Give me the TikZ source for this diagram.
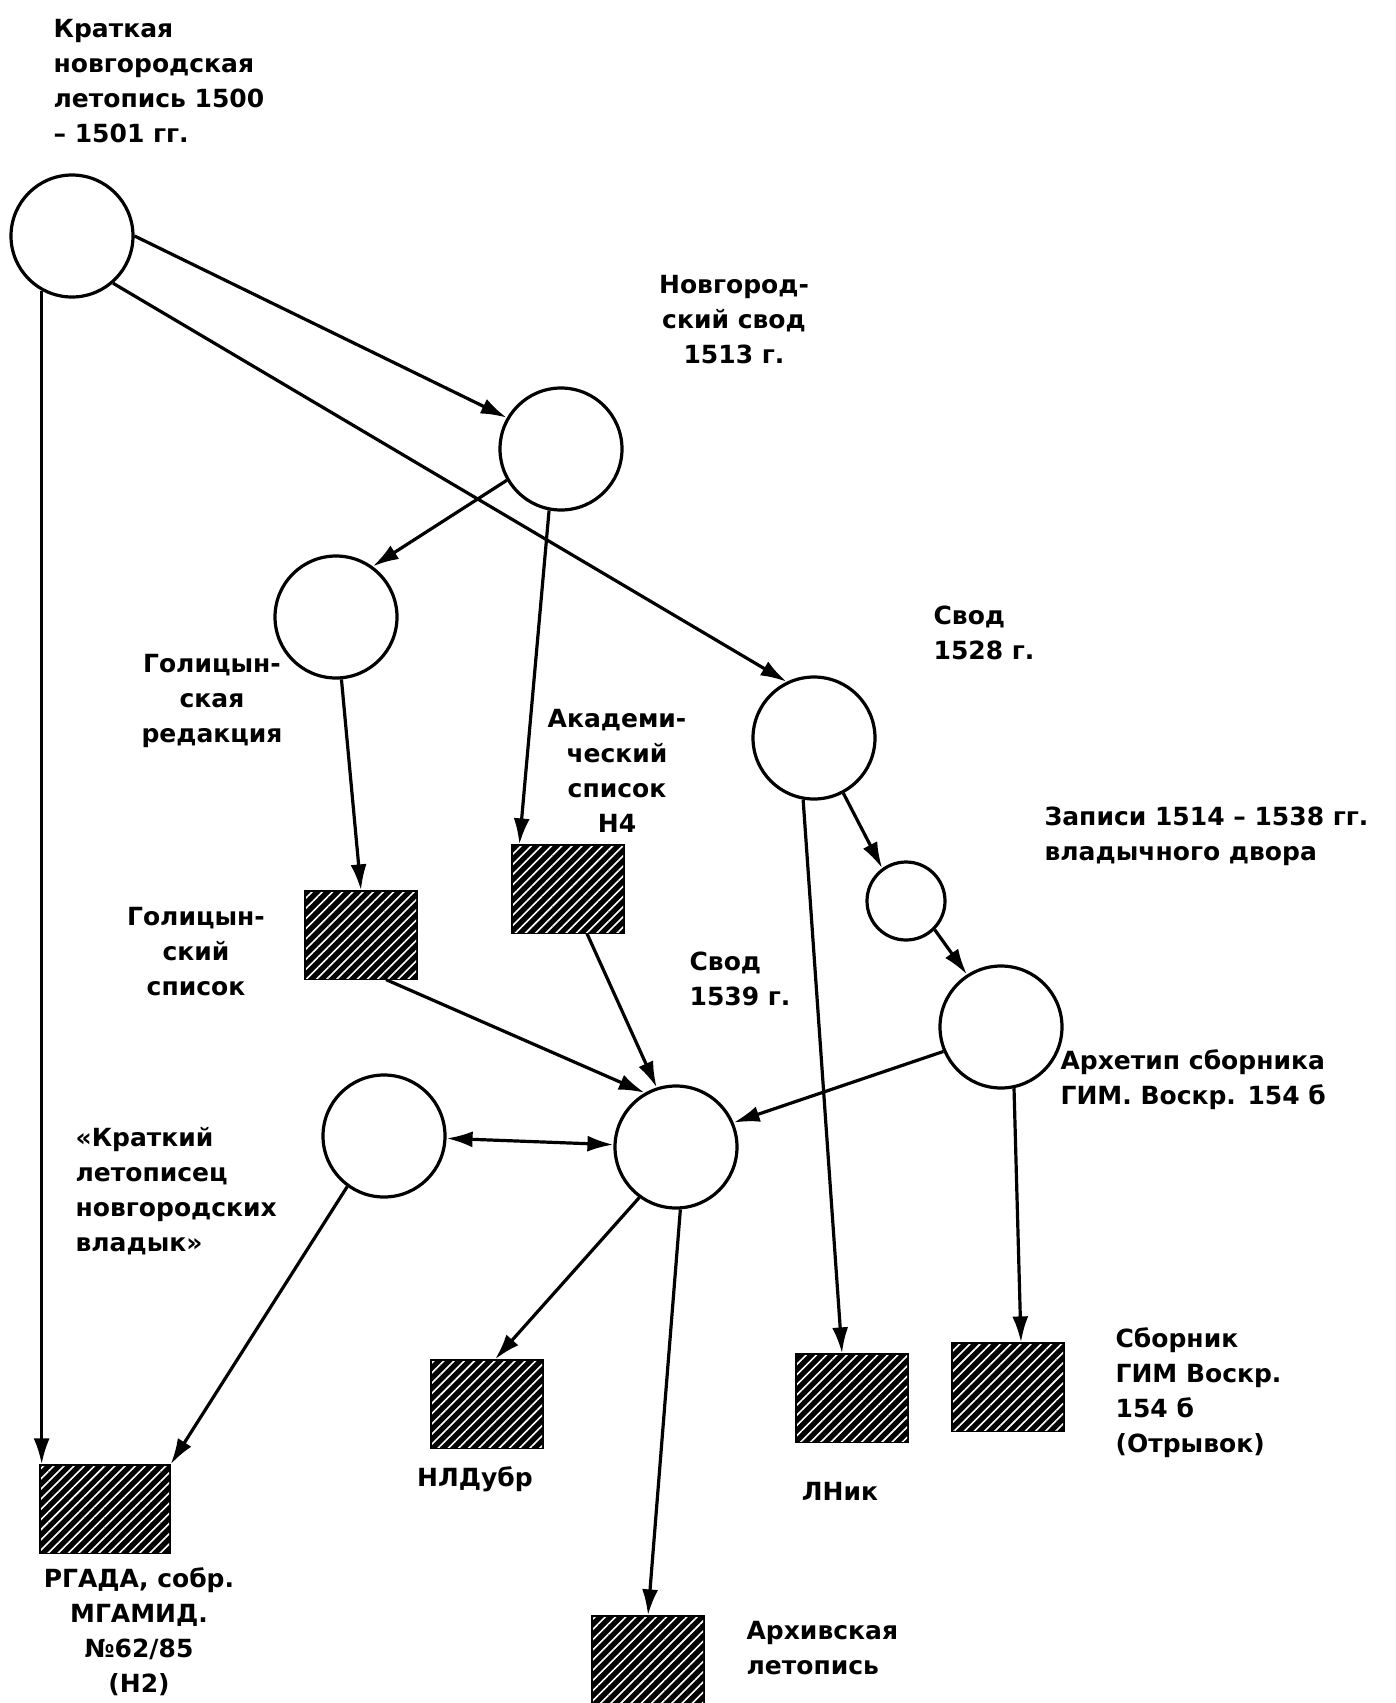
\documentclass[tikz,border=0pt]{standalone}
\usepackage{fontspec}
\setmainfont{DejaVu Sans}
\usetikzlibrary{arrows.meta,patterns.meta}
\begin{document}
\begin{tikzpicture}[x=0.5pt,y=-0.5pt,line width=1.6pt]
\tikzstyle{arrow}=[draw,-{Latex[length=13pt,width=8pt]}]
\tikzstyle{both}=[draw,{Latex[length=13pt,width=8pt]}-{Latex[length=13pt,width=8pt]}]
\tikzstyle{svod}=[draw,circle,inner sep=0pt,minimum size=61pt]
\tikzstyle{spisok}=[draw,fill=black,inner sep=0pt,minimum width=55pt,minimum height=43pt,postaction={pattern={Lines[angle=45,distance=3.6pt,line width=0.8pt]},pattern color=white}]
\tikzstyle{txt}=[inner sep=0pt,font=\bfseries\fontsize{12.5}{17.5}\selectfont]
\useasboundingbox(0,0)rectangle(1396,1703);
% svody
\node[svod](krat)at(72,236){};
\node[svod](nov1513)at(561,449){};
\node[svod](golred)at(336,617){};
\node[svod](svod1528)at(814,738){};
\node[svod,minimum size=39pt](zap)at(906,901){};
\node[svod](arch)at(1001,1027){};
\node[svod](svod1539)at(676,1147){};
\node[svod](kratlet)at(384,1136){};
% spiski
\node[spisok](golspis)at(361,935){};
\node[spisok](h4)at(568,889){};
\node[spisok,minimum width=64pt](rgada)at(105,1509){};
\node[spisok](nldubr)at(487,1404){};
\node[spisok](lnik)at(852,1398){};
\node[spisok](sbornik)at(1008,1387){};
\node[spisok](arkh)at(648,1660){};
% podpisi
\node[txt,anchor=north west,align=left](kratt)at(52,18){Краткая\\новгородская\\летопись 1500\\– 1501 гг.};
\node[txt,align=center](nov1513t)at(734,320){Новгород-\\ский свод\\1513 г.};
\node[txt,anchor=west,align=left](svod1528t)at(932,633){Свод\\1528 г.};
\node[txt,align=center](golredt)at(212,701){Голицын-\\ская\\редакция};
\node[txt,align=center](h4t)at(617,771){Академи-\\ческий\\список\\Н4};
\node[txt,anchor=west,align=left](zapt)at(1043,836){Записи 1514 – 1538 гг.\\владычного двора};
\node[txt,align=center](golspist)at(196,952){Голицын-\\ский\\список};
\node[txt,anchor=west,align=left](svod1539t)at(688,979){Свод\\1539 г.};
\node[txt,anchor=west,align=left](archt)at(1059,1080){Архетип сборника\\ГИМ. Воскр. 154 б};
\node[txt,anchor=west,align=left](kratlett)at(74,1191){«Краткий\\летописец\\новгородских\\владык»};
\node[txt,anchor=west,align=left](sbornikt)at(1114,1393){Сборник\\ГИМ Воскр.\\154 б\\(Отрывок)};
\node[txt](nldubrt)at(475,1479){НЛДубр};
\node[txt](lnikt)at(840,1491){ЛНик};
\node[txt,align=center](rgadat)at(139,1632){РГАДА, собр.\\МГАМИД.\\№62/85\\(Н2)};
\node[txt,anchor=west,align=left](arkht)at(745,1648){Архивская\\летопись};
% strelki
\path[arrow](krat.241)--(krat.241|-rgada.north);
\path[arrow](krat.0)--(nov1513.150);
\path[arrow](krat.-49)--(svod1528.116);
\path[arrow](nov1513.210)--(golred.54);
\path[arrow](nov1513.259)--([xshift=4pt]h4.north west);
\path[arrow](golred.275)--(golspis.north);
\path[arrow](svod1528.260)--([xshift=-5pt]lnik.north);
\path[arrow](svod1528.-62)--(zap.126);
\path[arrow](zap.-45)--(arch.123);
\path[arrow](arch.203)--(svod1539.23);
\path[arrow](arch.-78)--([xshift=6.5pt]sbornik.north);
\path[arrow]([xshift=12.5pt]golspis.south)--(svod1539.120);
\path[arrow]([xshift=9.5pt]h4.south)--(svod1539.108);
\path[both](kratlet)--(svod1539);
\path[arrow](kratlet.234)--(rgada.north east);
\path[arrow](svod1539.234)--([xshift=4pt]nldubr.north);
\path[arrow](svod1539.-86)--(arkh.north);
\end{tikzpicture}
\end{document}
